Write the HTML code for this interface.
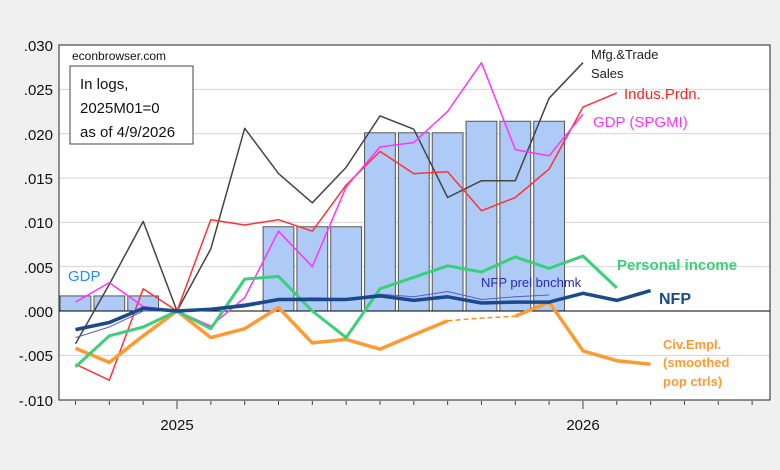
<!DOCTYPE html>
<html><head><meta charset="utf-8"><style>
html,body{margin:0;padding:0;background:#f0f0f0;}
svg{display:block;font-family:"Liberation Sans",Arial,sans-serif;}
</style></head><body>
<svg id="c" width="780" height="470" viewBox="0 0 780 470">
<rect x="0" y="0" width="780" height="470" fill="#f0f0f0"/>
<rect x="59" y="45" width="711" height="355" fill="#fff"/>
<g id="grid" stroke="#d4d4d4" stroke-width="1"></g>
<g id="bars"></g>
<line x1="59" y1="311" x2="770" y2="311" stroke="#000" stroke-width="1"/>
<g id="lines" fill="none" stroke-linejoin="round"></g>
<rect x="59" y="45" width="711" height="355" fill="none" stroke="#222" stroke-width="1"/>
<g id="ticks" stroke="#444"></g>
<g font-size="15" fill="#111" text-anchor="end">
<text x="53" y="51">.030</text><text x="53" y="95">.025</text><text x="53" y="140">.020</text>
<text x="53" y="184">.015</text><text x="53" y="228">.010</text><text x="53" y="273">.005</text>
<text x="53" y="317">.000</text><text x="53" y="361">-.005</text><text x="53" y="406">-.010</text>
</g>
<g font-size="15" fill="#111" text-anchor="middle">
<text x="177" y="430">2025</text><text x="583" y="430">2026</text>
</g>
<text x="72" y="60" font-size="12" fill="#111">econbrowser.com</text>
<rect x="70" y="66" width="123" height="78" fill="#fff" stroke="#444" stroke-width="1"/>
<g font-size="15" fill="#111"><text x="80" y="89">In logs,</text><text x="80" y="113">2025M01=0</text><text x="80" y="137">as of 4/9/2026</text></g>
<text x="68" y="281" font-size="15" fill="#1e90ff">GDP</text>
<text x="591" y="59" font-size="13" fill="#222">Mfg.&amp;Trade</text>
<text x="591" y="78" font-size="13" fill="#222">Sales</text>
<text x="624" y="99" font-size="15" fill="#ff2020">Indus.Prdn.</text>
<text x="593" y="127" font-size="15" fill="#ff33ff">GDP (SPGMI)</text>
<text x="617" y="270" font-size="15" font-weight="bold" fill="#3ad07a">Personal income</text>
<text x="481" y="287" font-size="13" fill="#2828b0">NFP prel bnchmk</text>
<text x="659" y="304" font-size="16" font-weight="bold" fill="#1a4a8a">NFP</text>
<g font-size="13" font-weight="bold" fill="#ff9a33"><text x="663" y="349">Civ.Empl.</text><text x="663" y="367">(smoothed</text><text x="663" y="386">pop ctrls)</text></g>
</svg>
<script>
var NS="http://www.w3.org/2000/svg";
function X(m){return 177+33.83*m;}
function Y(v){return 311-v*8867;}
function el(p,t,a){var e=document.createElementNS(NS,t);for(var k in a)e.setAttribute(k,a[k]);document.getElementById(p).appendChild(e);return e;}
[.03,.025,.02,.015,.01,.005,-.005].forEach(function(v){el("grid","line",{x1:59,x2:770,y1:Y(v),y2:Y(v)});});
for(var m=-3;m<=17;m++){var big=(m==0||m==12);el("ticks","line",{x1:X(m),x2:X(m),y1:401,y2:big?409:405});}
var bars={"-3":.0017,"-2":.0017,"-1":.0017,"3":.0095,"4":.0095,"5":.0095,"6":.0201,"7":.0201,"8":.0201,"9":.0214,"10":.0214,"11":.0214};
for(var k in bars){var m=+k,v=bars[k];el("bars","rect",{x:X(m)-15.4,y:Y(v),width:30.8,height:311-Y(v),fill:"#aecbf8",stroke:"#555","stroke-width":1});}
function line(d,c,w,dash,start){start=start||-3;var pts=d.map(function(v,i){return v==null?null:X(start+i).toFixed(1)+","+Y(v).toFixed(1);}).filter(function(x){return x;});
var a={points:pts.join(" "),stroke:c,"stroke-width":w};if(dash)a["stroke-dasharray"]=dash;el("lines","polyline",a);}
line([-.0037,.003,.0101,0,.007,.0206,.0155,.0122,.0162,.022,.0205,.0128,.0147,.0147,.024,.028],"#444",1.5);
line([-.006,-.0078,.0025,0,.0103,.0097,.0103,.009,.0142,.018,.0155,.0157,.0113,.0128,.016,.023,.0246],"#ff3333",1.5);
line([.001,.0032,.0005,0,-.0017,.0015,.009,.005,.014,.0185,.019,.0225,.028,.0182,.0175,.0222],"#ff33ff",1.5);
line([-.0042,-.0058,-.0028,0,-.003,-.002,.0004,-.0036,-.0032,-.0043,-.0027,-.0011],"#ff9a33",3.5);
line([-.0011,-.0008,-.0006],"#ff8c1a",1.5,"5,3",8);
line([-.0006,.001,-.0045,-.0056,-.006],"#ff9a33",3.5,null,10);
line([-.0063,-.0028,-.0018,0,-.002,.0036,.0039,0,-.003,.0025,.0038,.0051,.0044,.0061,.0048,.0062,.0026],"#3ad07a",3);
line([-.003,-.0018,0,0,.0003,.0008,.0014,.0015,.0014,.0019,.0016,.0022,.0013,.0016,.0018],"#5a5ad0",1);
line([-.0021,-.0013,.0003,0,.0002,.0006,.0013,.0013,.0013,.0017,.0012,.0016,.0009,.001,.001,.002,.0012,.0023],"#1a4a8a",3.5);
</script>
</body></html>
